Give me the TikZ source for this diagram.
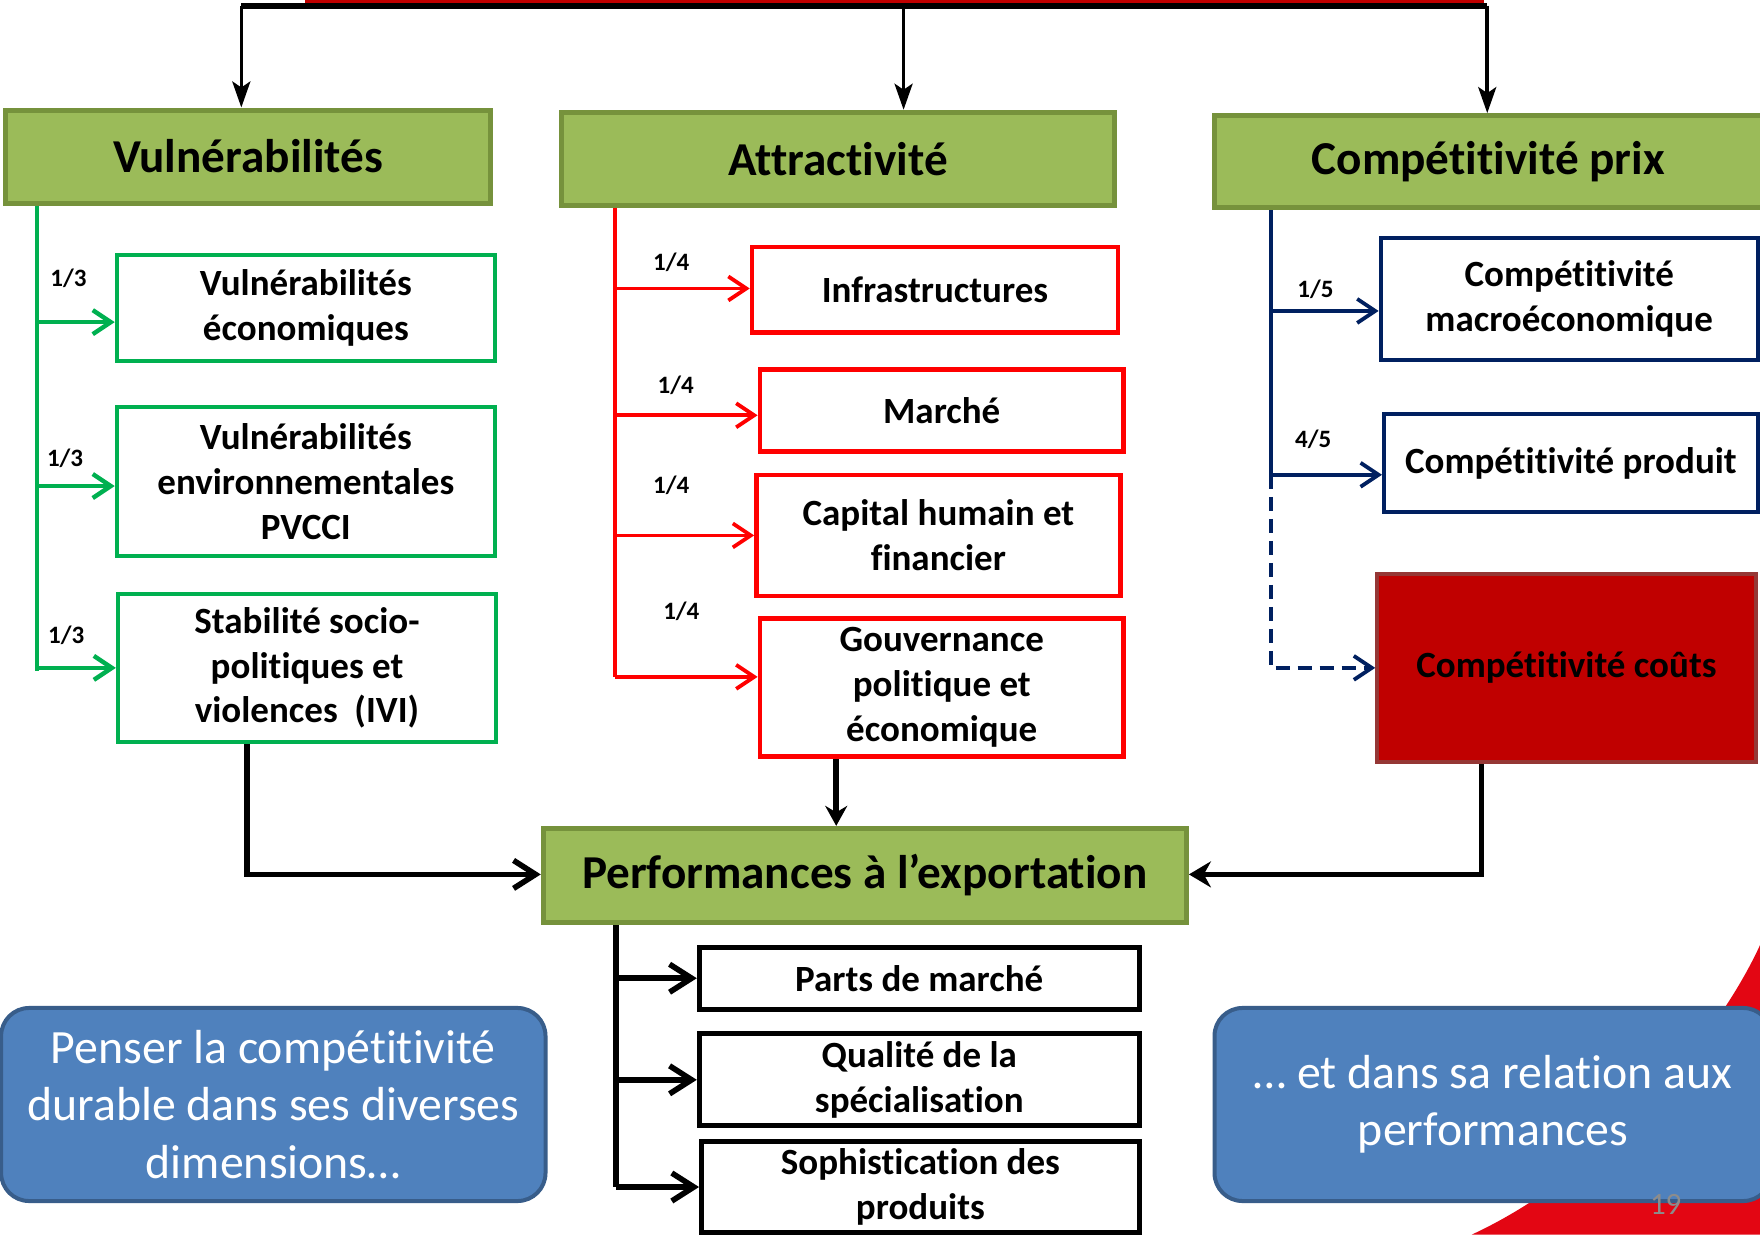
\documentclass[tikz,border=0pt]{standalone}
\usepackage{fontspec}
\setmainfont{Carlito}[Ligatures=NoCommon]
\usetikzlibrary{arrows.meta}

\definecolor{olivefill}{HTML}{9BBB59}
\definecolor{olivedraw}{HTML}{76923C}
\definecolor{vgreen}{HTML}{00B050}
\definecolor{vred}{HTML}{FF0000}
\definecolor{navy}{HTML}{002060}
\definecolor{darkred}{HTML}{C00000}
\definecolor{costdraw}{HTML}{953735}
\definecolor{bluefill}{HTML}{4F81BD}
\definecolor{bluedraw}{HTML}{385D8A}
\definecolor{swoosh}{RGB}{227,6,19}
\definecolor{pagegray}{HTML}{8C8C8C}

\newcommand\titlefnt{\bfseries\fontsize{23.6}{28}\selectfont}
\newcommand\subfnt{\bfseries\fontsize{18.5}{22.4}\selectfont}
\newcommand\msgfnt{\fontsize{23.9}{28.6}\selectfont}
\newcommand\fracfnt{\bfseries\fontsize{12.5}{14}\selectfont}

% unit length of the drawing grid, in pt
\def\gridu{0.5612}

% box given by its corner points: name, style, x1, y1, x2, y2, text
\newcommand\boxat[7]{%
  \pgfmathsetmacro\boxw{(#5-#3)*\gridu}%
  \pgfmathsetmacro\boxh{(#6-#4)*\gridu}%
  \node[#2, minimum width=\boxw pt, minimum height=\boxh pt, inner sep=0pt,
        align=center] (#1) at ({(#3+#5)/2},{(#4+#6)/2}) {#7};}

\tikzset{
  titlebox/.style={draw=olivedraw, fill=olivefill, line width=2.5pt, font=\titlefnt},
  gbox/.style={draw=vgreen, fill=white, line width=2pt, font=\subfnt},
  rbox/.style={draw=vred, fill=white, line width=2.3pt, font=\subfnt},
  nbox/.style={draw=navy, fill=white, line width=2pt, font=\subfnt},
  costbox/.style={draw=costdraw, fill=darkred, line width=2pt, font=\subfnt},
  kbox/.style={draw=black, fill=white, line width=2.5pt, font=\subfnt},
  msgbox/.style={draw=bluedraw, fill=bluefill, line width=2pt, rounded corners=14pt,
    text=white, font=\msgfnt},
  frac/.style={font=\fracfnt, inner sep=0pt},
  barb/.style={-{Straight Barb[length=9pt,width=12pt]}},
  gline/.style={draw=vgreen, line width=2.2pt},
  rline/.style={draw=vred, line width=1.9pt},
  nline/.style={draw=navy, line width=1.9pt},
  kline/.style={draw=black, line width=2.8pt},
  karrow/.style={kline, -{Straight Barb[length=11pt,width=14pt]}},
  toparrow/.style={draw=black, line width=1.8pt, -{Stealth[length=13pt,width=9pt,inset=3pt]}},
}

\begin{document}
\begin{tikzpicture}[x=\gridu pt, y=-\gridu pt]
\clip (0,0) rectangle (1568,1100);
\fill[white] (0,0) rectangle (1568,1100);

% red corner swoosh
\fill[swoosh] (1568,842) .. controls (1530,925) and (1430,1045) .. (1311,1100)
  -- (1568,1100) -- cycle;

% top bar
\fill[darkred] (272,-4) rectangle (1322,3);
\coordinate (tl) at (215,5);
\coordinate (tm) at (805,5);
\coordinate (tr) at (1325,5);
\draw[draw=black, line width=3pt] (tl) -- (tr);

% headline boxes
\boxat{vuln}{titlebox}{5}{98}{437}{181}{Vulnérabilités}
\boxat{attr}{titlebox}{500}{100}{993}{183}{Attractivité}
\boxat{prix}{titlebox}{1082}{103}{1570}{185}{Compétitivité prix}

\draw[toparrow] (tl) -- (tl |- vuln.north);
\draw[toparrow] (tm) -- (tm |- attr.north);
\draw[toparrow] (tr) -- (tr |- prix.north);

% vulnerability column
\boxat{v1}{gbox}{104}{227}{441}{322}{Vulnérabilités\\économiques}
\boxat{v2}{gbox}{104}{363}{441}{495}{Vulnérabilités\\environnementales\\PVCCI}
\boxat{v3}{gbox}{105}{529}{442}{661}{Stabilité socio-\\politiques et\\violences\ \ (IVI)}

\coordinate (g1) at (33,287);
\coordinate (g2) at (33,433);
\coordinate (g3) at (33,595);
\coordinate (gend) at (33,598);
\draw[gline] (vuln.south -| g1) -- (gend);
\draw[gline, barb] (g1) -- (g1 -| v1.west);
\draw[gline, barb] (g2) -- (g2 -| v2.west);
\draw[gline, barb] (g3) -- (g3 -| v3.west);
\node[frac] (lg1) at (61,248) {1/3};
\node[frac] (lg2) at (58,408) {1/3};
\node[frac] (lg3) at (59,566) {1/3};

% attractiveness column
\boxat{a1}{rbox}{670}{220}{996}{296}{Infrastructures}
\boxat{a2}{rbox}{677}{329}{1001}{402}{Marché}
\boxat{a3}{rbox}{674}{423}{998}{531}{Capital humain et\\financier}
\boxat{a4}{rbox}{677}{551}{1001}{674}{Gouvernance\\politique et\\économique}

\coordinate (r1) at (548,257);
\coordinate (r2) at (548,370);
\coordinate (r3) at (548,477);
\coordinate (r4) at (548,603);
\draw[rline] (attr.south -| r1) -- (r4);
\draw[rline, barb] (r1) -- (r1 -| a1.west);
\draw[rline, barb] (r2) -- (r2 -| a2.west);
\draw[rline, barb] (r3) -- (r3 -| a3.west);
\draw[rline, barb] (r4) -- (r4 -| a4.west);
\node[frac] (lr1) at (598,234) {1/4};
\node[frac] (lr2) at (602,343) {1/4};
\node[frac] (lr3) at (598,432) {1/4};
\node[frac] (lr4) at (607,545) {1/4};

% price competitiveness column
\boxat{c1}{nbox}{1230}{212}{1566}{321}{Compétitivité\\macroéconomique}
\boxat{c2}{nbox}{1233}{369}{1566}{456}{Compétitivité produit}
\boxat{cc}{costbox}{1227}{511}{1564}{679}{Compétitivité coûts}

\coordinate (n1) at (1132,277);
\coordinate (n2) at (1132,423);
\draw[nline] (prix.south -| n1) -- (n2);
\draw[nline, barb] (n1) -- (n1 -| c1.west);
\draw[nline, barb] (n2) -- (n2 -| c2.west);
\draw[nline, dashed, dash pattern=on 7pt off 4pt, barb] (n2) -- (n2 |- cc.west) -- (cc.west);
\node[frac] (ln1) at (1172,258) {1/5};
\node[frac] (ln2) at (1170,391) {4/5};

% export performance
\boxat{perf}{titlebox}{484}{738}{1057}{822}{Performances à l’exportation}

\coordinate (bl) at (220,779);
\coordinate (bm) at (745,700);
\coordinate (br) at (1320,779);
\draw[kline, -{Straight Barb[length=11pt,width=14pt]}] (v3.south -| bl) -- (bl) -- (bl -| perf.west);
\draw[kline, -{Stealth[length=10pt,width=11pt]}] (a4.south -| bm) -- (bm |- perf.north);
\draw[kline, -{Stealth[length=11pt,width=13pt]}] (cc.south -| br) -- (br) -- (br -| perf.east);

\boxat{o1}{kbox}{623}{844}{1015}{899}{Parts de marché}
\boxat{o2}{kbox}{623}{921}{1015}{1003}{Qualité de la\\spécialisation}
\boxat{o3}{kbox}{625}{1017}{1015}{1098}{Sophistication des\\produits}

\coordinate (px) at (549,900);
\draw[kline] (perf.south -| px) -- (px |- o3.west);
\draw[karrow] (px |- o1.west) -- (o1.west);
\draw[karrow] (px |- o2.west) -- (o2.west);
\draw[karrow] (px |- o3.west) -- (o3.west);

% messages
\boxat{m1}{msgbox}{1}{898}{486}{1070}{Penser la compétitivité\\durable dans ses diverses\\dimensions…}
\boxat{m2}{msgbox}{1082}{898}{1578}{1070}{… et dans sa relation aux\\performances}

\node[text=pagegray, font=\fontsize{15.5}{18}\selectfont, inner sep=0pt] (page) at (1484,1073) {19};
\end{tikzpicture}
\end{document}
